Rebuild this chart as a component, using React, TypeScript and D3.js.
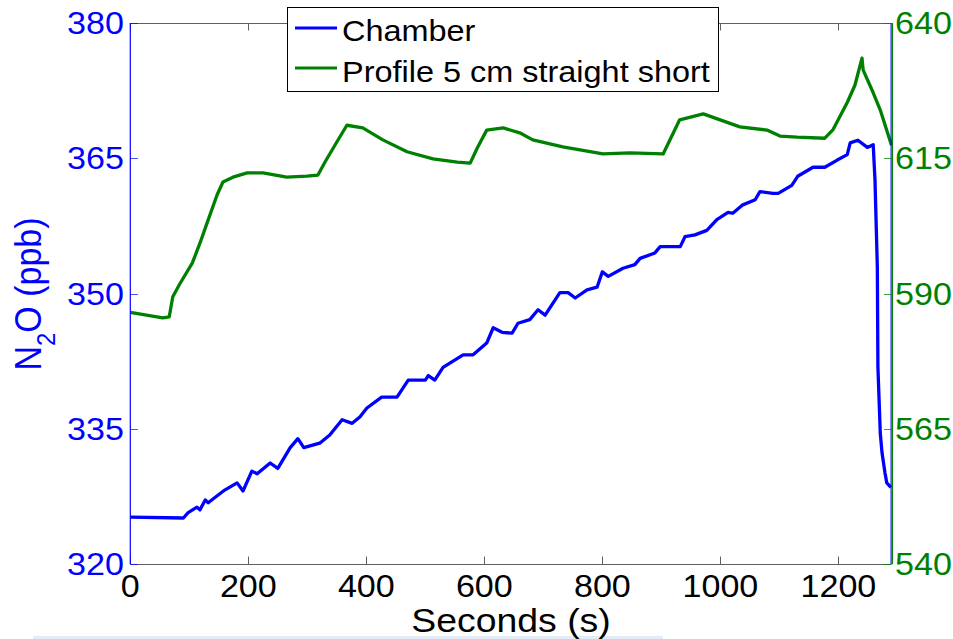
import React from "react";
import * as d3 from "d3";

// Chamber series (left axis, N2O ppb)
const T_CHAMBER = [0, 90, 98, 113, 118, 127, 132, 144, 160, 181, 191, 206, 215, 237, 250, 271, 284, 294, 321, 338, 359, 376, 389, 401, 426, 452, 471, 500, 505, 516, 530, 564, 581, 604, 615, 630, 647, 657, 677, 691, 703, 728, 742, 754, 774, 791, 800, 810, 835, 855, 864, 889, 898, 932, 940, 957, 977, 994, 1013, 1021, 1037, 1059, 1067, 1089, 1098, 1121, 1131, 1157, 1177, 1198, 1215, 1220, 1233, 1249, 1259, 1262, 1266, 1267, 1271, 1274, 1279, 1282, 1289];
const N2O_CHAMBER = [325.2, 325.1, 325.7, 326.3, 326.0, 327.1, 326.8, 327.4, 328.2, 329.0, 328.1, 330.3, 330.0, 331.2, 330.6, 332.9, 333.9, 332.9, 333.4, 334.3, 336.0, 335.6, 336.3, 337.3, 338.5, 338.5, 340.4, 340.4, 340.9, 340.4, 341.8, 343.2, 343.2, 344.5, 346.2, 345.7, 345.6, 346.7, 347.1, 348.2, 347.6, 350.1, 350.1, 349.5, 350.4, 350.7, 352.4, 351.9, 352.8, 353.2, 353.9, 354.5, 355.2, 355.2, 356.3, 356.5, 357.0, 358.2, 359.0, 358.9, 359.8, 360.4, 361.3, 361.1, 361.1, 362.0, 363.0, 364.0, 364.0, 364.8, 365.4, 366.7, 367.0, 366.2, 366.5, 362.6, 352.9, 341.8, 334.5, 332.3, 330.1, 329.0, 328.5];

// Profile series (right axis)
const T_PROFILE = [0, 55, 66, 72, 84, 105, 118, 130, 147, 157, 174, 198, 225, 265, 299, 318, 330, 350, 367, 394, 428, 469, 513, 554, 576, 588, 604, 632, 660, 682, 733, 801, 847, 903, 931, 971, 1033, 1079, 1101, 1130, 1177, 1191, 1203, 1215, 1228, 1240, 1242, 1259, 1271, 1290];
const N2O_PROFILE = [586.5, 585.5, 585.7, 589.4, 591.8, 595.6, 599.3, 603.0, 608.2, 610.6, 611.5, 612.3, 612.3, 611.5, 611.7, 611.9, 614.3, 618.0, 621.1, 620.6, 618.4, 616.2, 614.9, 614.3, 614.1, 616.9, 620.2, 620.6, 619.7, 618.4, 617.1, 615.8, 616.0, 615.8, 622.1, 623.2, 620.8, 620.2, 619.1, 618.9, 618.7, 620.3, 622.8, 625.3, 628.5, 633.5, 631.3, 627.1, 623.9, 617.4];

const X_TICKS = [0, 200, 400, 600, 800, 1000, 1200];
const LEFT_TICKS = [320, 335, 350, 365, 380];
const RIGHT_TICKS = [540, 565, 590, 615, 640];

const SERIES_NAMES = ["Chamber", "Profile 5 cm straight short"];

const BLUE = "#0000ff";
const GREEN = "#008000";
const GRAY = "#606060";
const FONT = "'Liberation Sans', Arial, Helvetica, sans-serif";
const SX = 1.1; // horizontal text stretch

export default function App() {
  const W = 953;
  const H = 639;
  const left = 130.3;
  const right = 891.5;
  const top = 23;
  const bottom = 564;

  const x = d3.scaleLinear().domain([0, 1290]).range([left, right]);
  const yL = d3.scaleLinear().domain([320, 380]).range([bottom, top]);
  const yR = d3.scaleLinear().domain([540, 640]).range([bottom, top]);

  const chamber = T_CHAMBER.map((t, i) => [t, N2O_CHAMBER[i]] as [number, number]);
  const profile = T_PROFILE.map((t, i) => [t, N2O_PROFILE[i]] as [number, number]);

  const lineL = d3.line<[number, number]>().x((d) => x(d[0])).y((d) => yL(d[1]));
  const lineR = d3.line<[number, number]>().x((d) => x(d[0])).y((d) => yR(d[1]));

  const tickLen = 7.5;

  return (
    <svg
      width={W}
      height={H}
      viewBox={`0 0 ${W} ${H}`}
      style={{ position: "absolute", left: 0, top: 0, display: "block", background: "#fff" }}
    >
      <rect x={0} y={0} width={W} height={H} fill="#fff" />
      <rect x={33} y={636} width={630} height={3} fill="#e4ecf8" />

      {/* frame: top and bottom */}
      <line x1={left} x2={right} y1={top + 0.5} y2={top + 0.5} stroke={GRAY} strokeWidth={1} />
      <line x1={left} x2={right} y1={bottom + 0.5} y2={bottom + 0.5} stroke={GRAY} strokeWidth={1} />

      {/* x ticks (bottom up, top down) */}
      {X_TICKS.map((t) => (
        <g key={`xt${t}`}>
          <line x1={Math.round(x(t)) + 0.5} x2={Math.round(x(t)) + 0.5} y1={bottom} y2={bottom - tickLen} stroke={GRAY} />
          <line x1={Math.round(x(t)) + 0.5} x2={Math.round(x(t)) + 0.5} y1={top} y2={top + tickLen} stroke={GRAY} />
          <text
            transform={`translate(${x(t)},${597}) scale(${SX},1)`}
            textAnchor="middle"
            fontFamily={FONT}
            fontSize={31}
            fill="#000"
          >
            {t}
          </text>
        </g>
      ))}

      {/* data lines */}
      <path d={lineR(profile) || ""} fill="none" stroke={GREEN} strokeWidth={3.3} strokeLinejoin="round" />
      <path d={lineL(chamber) || ""} fill="none" stroke={BLUE} strokeWidth={3.3} strokeLinejoin="round" />

      {/* left axis */}
      <line x1={left} x2={left} y1={top} y2={bottom} stroke={BLUE} strokeWidth={1.2} />
      {LEFT_TICKS.map((v) => (
        <g key={`lt${v}`}>
          <line x1={left} x2={left + tickLen} y1={Math.round(yL(v)) + 0.5} y2={Math.round(yL(v)) + 0.5} stroke={BLUE} strokeOpacity={0.7} />
          <text
            transform={`translate(${124},${yL(v)}) scale(${SX},1)`}
            dy="0.36em"
            textAnchor="end"
            fontFamily={FONT}
            fontSize={31}
            fill={BLUE}
          >
            {v}
          </text>
        </g>
      ))}

      {/* right axis */}
      <line x1={right - 0.4} x2={right - 0.4} y1={top} y2={bottom} stroke={BLUE} strokeWidth={1.1} />
      <line x1={right + 1} x2={right + 1} y1={top} y2={bottom} stroke={GREEN} strokeWidth={1.1} />
      {RIGHT_TICKS.map((v) => (
        <g key={`rt${v}`}>
          <line x1={right} x2={right - tickLen} y1={Math.round(yR(v)) + 0.5} y2={Math.round(yR(v)) + 0.5} stroke={GREEN} strokeOpacity={0.75} />
          <text
            transform={`translate(${895},${yR(v)}) scale(${SX},1)`}
            dy="0.36em"
            textAnchor="start"
            fontFamily={FONT}
            fontSize={31}
            fill={GREEN}
          >
            {v}
          </text>
        </g>
      ))}

      {/* axis titles */}
      <text
        transform={`translate(${511},${632}) scale(${SX},1)`}
        textAnchor="middle"
        fontFamily={FONT}
        fontSize={34}
        fill="#000"
      >
        Seconds (s)
      </text>
      <text
        transform={`translate(${41},${294}) rotate(-90) scale(1,${SX})`}
        textAnchor="middle"
        fontFamily={FONT}
        fontSize={34}
        fill={BLUE}
      >
        N
        <tspan fontSize={24} dy={13}>2</tspan>
        <tspan dy={-13}>O (ppb)</tspan>
      </text>

      {/* legend */}
      <rect x={287.5} y={7.5} width={431} height={84} fill="#fff" stroke="#000" strokeWidth={1} />
      {SERIES_NAMES.map((name, i) => (
        <g key={name}>
          <line x1={295} x2={337} y1={28 + i * 40} y2={28 + i * 40} stroke={i === 0 ? BLUE : GREEN} strokeWidth={3} />
          <text
            transform={`translate(${342},${41 + i * 40.7}) scale(${SX},1)`}
            fontFamily={FONT}
            fontSize={29.5}
            fill="#000"
          >
            {name}
          </text>
        </g>
      ))}
    </svg>
  );
}
